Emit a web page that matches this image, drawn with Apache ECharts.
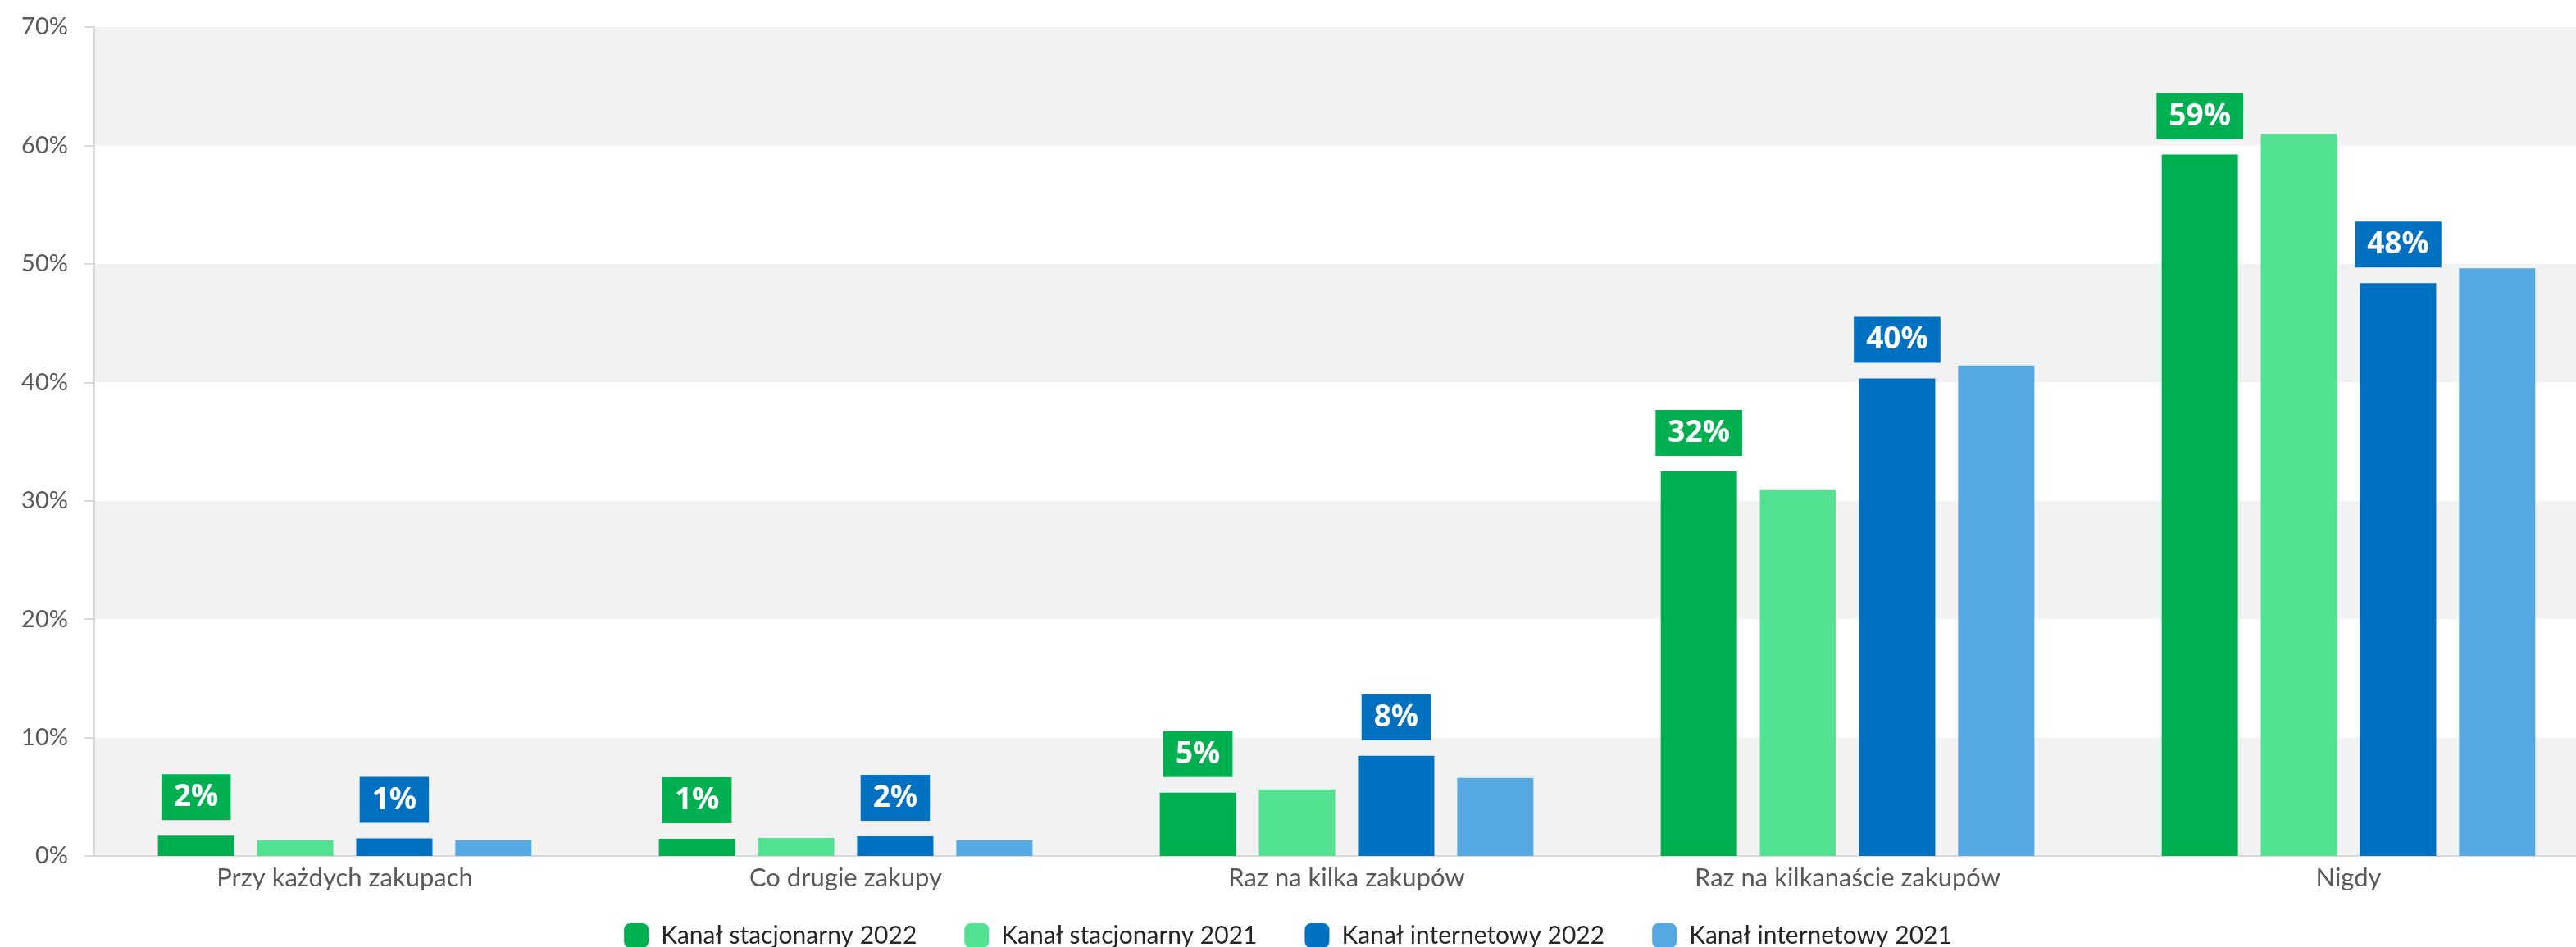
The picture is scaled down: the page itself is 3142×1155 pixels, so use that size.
<!DOCTYPE html>
<html>
<head>
<meta charset="utf-8">
<script src="https://cdn.jsdelivr.net/npm/echarts@6/dist/echarts.min.js"></script>
<style>
  html, body { margin: 0; padding: 0; background: #ffffff; }
  #chart { width: 3142px; height: 1155px; }
</style>
</head>
<body>
<div id="chart"></div>
<script>
// Purchase frequency categories
const categories = ['Przy każdych zakupach', 'Co drugie zakupy', 'Raz na kilka zakupów', 'Raz na kilkanaście zakupów', 'Nigdy'];

// Series names
const seriesNames = ['Kanał stacjonarny 2022', 'Kanał stacjonarny 2021', 'Kanał internetowy 2022', 'Kanał internetowy 2021'];

// Shares in percent
const stacjonarny2022 = [1.72, 1.46, 5.35, 32.48, 59.23];
const stacjonarny2021 = [1.31, 1.53, 5.63, 30.9, 60.97];
const internetowy2022 = [1.49, 1.67, 8.47, 40.34, 48.38];
const internetowy2021 = [1.31, 1.32, 6.6, 41.42, 49.63];

// Value axis ticks
const yMin = 0, yMax = 70, yStep = 10;

const colors = ['#00B050', '#52E291', '#0070C0', '#56A8E2'];
const seriesData = [stacjonarny2022, stacjonarny2021, internetowy2022, internetowy2021];
const labelled = [true, false, true, false];

const axisFont = 'Lato, "Noto Sans", sans-serif';

const chart = echarts.init(document.getElementById('chart'), null, { renderer: 'canvas' });

chart.setOption({
  animation: false,
  backgroundColor: '#ffffff',
  // plot area runs slightly past the right edge of the canvas
  grid: { left: 115, top: 33, width: 3055, height: 1011, containLabel: false, outerBoundsMode: 'none' },
  legend: {
    data: seriesNames,
    left: 'center',
    top: 1121,
    itemWidth: 30,
    itemHeight: 30,
    itemGap: 58,
    icon: 'roundRect',
    textStyle: { fontFamily: axisFont, fontSize: 30, color: '#262626', padding: [0, 0, 0, 10] }
  },
  xAxis: {
    type: 'category',
    data: categories,
    axisLine: { lineStyle: { color: '#d9d9d9', width: 2 } },
    axisTick: { alignWithLabel: true, length: 11, lineStyle: { color: '#d9d9d9', width: 2 } },
    axisLabel: { fontFamily: axisFont, fontSize: 31, color: '#595959', margin: 11 },
    splitLine: { show: false }
  },
  yAxis: {
    type: 'value',
    min: yMin,
    max: yMax,
    interval: yStep,
    axisLine: { show: true, lineStyle: { color: '#d9d9d9', width: 2 } },
    axisTick: { show: true, length: 12, lineStyle: { color: '#d9d9d9', width: 2 } },
    axisLabel: { fontFamily: axisFont, fontSize: 29, color: '#595959', margin: 32, formatter: '{value}%' },
    splitLine: { show: false },
    splitArea: { show: true, areaStyle: { color: ['#f2f2f2', '#ffffff'] } }
  },
  series: seriesData.map((data, i) => ({
    name: seriesNames[i],
    type: 'bar',
    data: data,
    barWidth: 93,
    barGap: '30%',
    itemStyle: { color: colors[i] },
    label: {
      show: labelled[i],
      position: 'top',
      distance: 19,
      formatter: p => Math.round(p.value) + '%',
      fontFamily: '"Open Sans", sans-serif',
      fontWeight: 'bold',
      fontSize: 37,
      lineHeight: 37,
      color: '#ffffff',
      backgroundColor: colors[i],
      padding: [10, 15, 9, 15]
    }
  }))
});
</script>
</body>
</html>
